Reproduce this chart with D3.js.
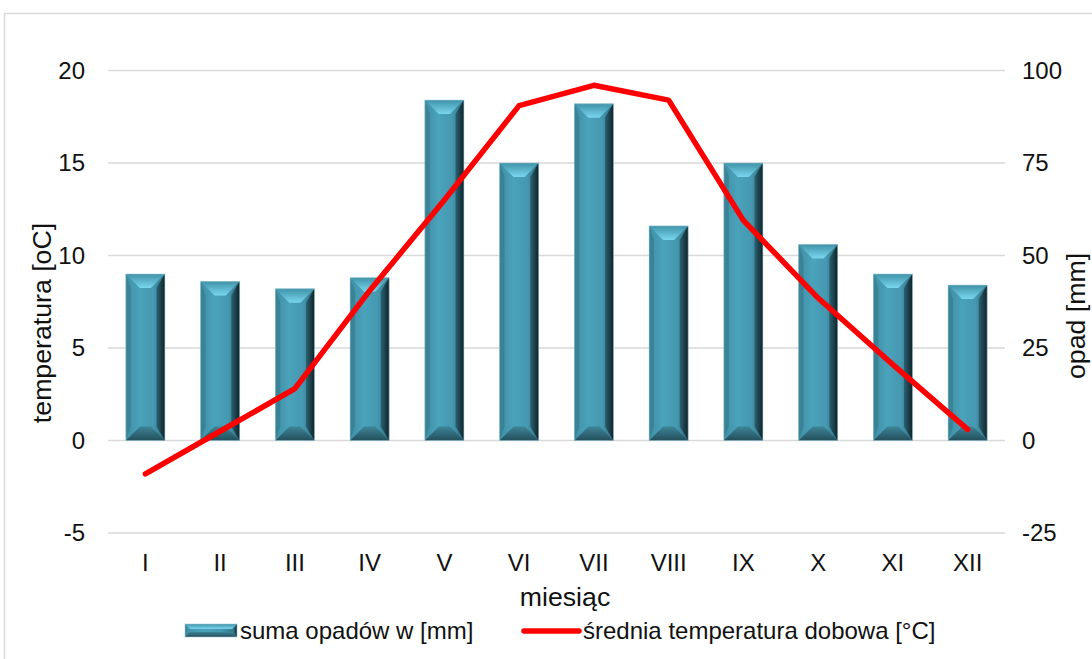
<!DOCTYPE html>
<html><head><meta charset="utf-8">
<script src="https://cdn.jsdelivr.net/npm/d3@7"></script>
<style>body{margin:0;background:#fff}svg{display:block;font-family:"Liberation Sans",Arial,sans-serif}</style>
</head><body><svg id="c" width="1092" height="659"></svg>
<script>
const months = ["I","II","III","IV","V","VI","VII","VIII","IX","X","XI","XII"];
const precip = [45,43,41,44,92,75,91,58,75,53,45,42];
const temp = [-1.8,0.5,2.8,8.1,13.0,18.1,19.2,18.4,11.9,7.7,4.1,0.6];
const tempTicks = [-5,0,5,10,15,20];
const precipTicks = [-25,0,25,50,75,100];

const FONT = "Liberation Sans, Arial, sans-serif";
const svg = d3.select("#c");
const L = 108, R = 1005, T = 70.5, B = 533;

svg.append("rect").attr("x",4.5).attr("y",13.5).attr("width",1200).attr("height",800)
  .attr("fill","none").attr("stroke","#d9d9d9").attr("stroke-width",1.5);

const x = d3.scaleBand().domain(months).range([L,R]).paddingInner(0.478).paddingOuter(0.239);
const yT = d3.scaleLinear().domain([-5,20]).range([B,T]);
const yP = d3.scaleLinear().domain([-25,100]).range([B,T]);

// gridlines
svg.append("g").selectAll("line").data(tempTicks).join("line")
  .attr("x1",L).attr("x2",R).attr("y1",d=>yT(d)).attr("y2",d=>yT(d))
  .attr("stroke","#d9d9d9").attr("stroke-width",1.5);

const fmt = d => String(d);
// left axis
const axL = svg.append("g").attr("transform",`translate(${L},0)`)
  .call(d3.axisLeft(yT).tickValues(tempTicks).tickFormat(fmt).tickSize(0).tickPadding(23));
axL.select(".domain").remove();
axL.selectAll("text").attr("font-size",24).attr("fill","#111").attr("font-family",FONT);

// right axis
const axR = svg.append("g").attr("transform",`translate(${R},0)`)
  .call(d3.axisRight(yP).tickValues(precipTicks).tickFormat(fmt).tickSize(0).tickPadding(17));
axR.select(".domain").remove();
axR.selectAll("text").attr("font-size",24).attr("fill","#111").attr("font-family",FONT);

// bottom axis labels
const axB = svg.append("g").attr("transform",`translate(0,${B})`)
  .call(d3.axisBottom(x).tickSize(0).tickPadding(21));
axB.select(".domain").remove();
axB.selectAll("text").attr("font-size",24).attr("fill","#111").attr("font-family",FONT);

// bar bevel gradients
const defs = svg.append("defs");
const g1 = defs.append("linearGradient").attr("id","face").attr("x1","0").attr("x2","1").attr("y1","0").attr("y2","0");
g1.append("stop").attr("offset","0").attr("stop-color","#3f8ea4");
g1.append("stop").attr("offset","0.35").attr("stop-color","#4aa2bb");
g1.append("stop").attr("offset","0.7").attr("stop-color","#4599b1");
g1.append("stop").attr("offset","1").attr("stop-color","#2e6c7d");
const g2 = defs.append("linearGradient").attr("id","rside").attr("x1","0").attr("x2","1").attr("y1","0").attr("y2","0");
g2.append("stop").attr("offset","0").attr("stop-color","#2b6273");
g2.append("stop").attr("offset","1").attr("stop-color","#0f2329");
const g3 = defs.append("linearGradient").attr("id","top").attr("x1","0").attr("x2","0").attr("y1","0").attr("y2","1");
g3.append("stop").attr("offset","0").attr("stop-color","#3f93a9");
g3.append("stop").attr("offset","1").attr("stop-color","#79d6ee");
const g4 = defs.append("linearGradient").attr("id","bot").attr("x1","0").attr("x2","0").attr("y1","0").attr("y2","1");
g4.append("stop").attr("offset","0").attr("stop-color","#3d8598");
g4.append("stop").attr("offset","1").attr("stop-color","#234f5c");

function bevelBar(g, x0, y0, w, h, bv){
  bv = Math.min(bv, w/2, h/2);
  const x1 = x0+w, y1 = y0+h;
  g.append("rect").attr("x",x0).attr("y",y0).attr("width",w).attr("height",h).attr("fill","url(#face)");
  g.append("path").attr("d",`M${x0},${y0}L${x0+bv*0.35},${y0+bv}L${x0+bv*0.35},${y1-bv}L${x0},${y1}Z`).attr("fill","#3a8296");
  g.append("path").attr("d",`M${x1},${y0}L${x1-bv*0.6},${y0+bv}L${x1-bv*0.6},${y1-bv}L${x1},${y1}Z`).attr("fill","url(#rside)");
  g.append("path").attr("d",`M${x0},${y0}L${x1},${y0}L${x1-bv},${y0+bv}L${x0+bv},${y0+bv}Z`).attr("fill","url(#top)");
  g.append("path").attr("d",`M${x0},${y1}L${x1},${y1}L${x1-bv},${y1-bv}L${x0+bv},${y1-bv}Z`).attr("fill","url(#bot)");
  g.append("rect").attr("x",x0).attr("y",y0).attr("width",w).attr("height",h).attr("fill","none").attr("stroke","#9cc6d2").attr("stroke-width",0.8).attr("stroke-opacity",0.7);
}

const bars = svg.append("g");
months.forEach((m,i)=>{
  const y0 = yP(precip[i]), y1 = yP(0);
  bevelBar(bars.append("g"), x(m), y0, x.bandwidth(), y1-y0, 14);
});

// temperature line
const line = d3.line().x((d,i)=>x(months[i])+x.bandwidth()/2).y(d=>yT(d));
svg.append("path").datum(temp).attr("d",line).attr("fill","none")
  .attr("stroke","#ff0000").attr("stroke-width",5.5).attr("stroke-linecap","round").attr("stroke-linejoin","round");

// axis titles
svg.append("text").attr("transform","translate(51,323) rotate(-90)").attr("text-anchor","middle")
  .attr("font-size",26.7).attr("fill","#111").text("temperatura [oC]");
svg.append("text").attr("transform","translate(1085,316) rotate(-90)").attr("text-anchor","middle")
  .attr("font-size",26.7).attr("fill","#111").text("opad [mm]");
svg.append("text").attr("x",565).attr("y",606).attr("text-anchor","middle")
  .attr("font-size",26.7).attr("fill","#111").text("miesiąc");

// legend
const lg = svg.append("g");
bevelBar(lg.append("g"), 185, 624, 52, 13, 5);
lg.append("text").attr("x",240).attr("y",639).attr("font-size",24).attr("fill","#111").text("suma opadów w [mm]");
lg.append("line").attr("x1",524).attr("x2",579).attr("y1",631).attr("y2",631)
  .attr("stroke","#ff0000").attr("stroke-width",5.5).attr("stroke-linecap","round");
lg.append("text").attr("x",583).attr("y",639).attr("font-size",24).attr("fill","#111").text("średnia temperatura dobowa [°C]");
</script></body></html>
